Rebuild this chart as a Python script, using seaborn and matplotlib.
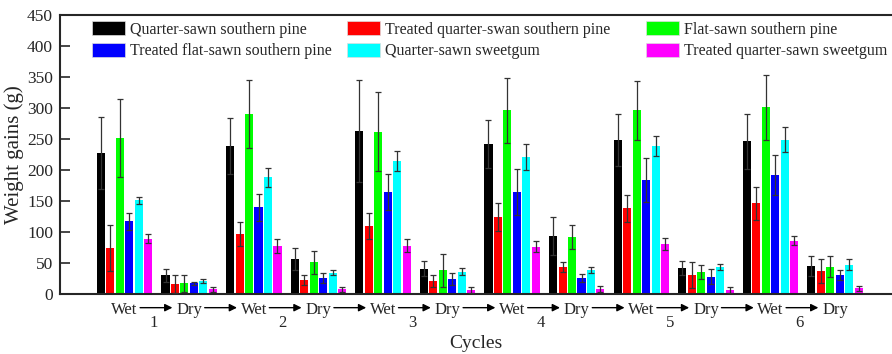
import matplotlib
matplotlib.use("Agg")
import matplotlib.pyplot as plt
from matplotlib.legend import Legend
import numpy as np
import pandas as pd
import seaborn as sns

stages = ["Wet", "Dry", "Wet", "Dry", "Wet", "Dry", "Wet", "Dry", "Wet", "Dry", "Wet", "Dry"]
cycles = ["1", "2", "3", "4", "5", "6"]
series = ["Quarter-sawn southern pine", "Treated quarter-swan southern pine",
          "Flat-sawn southern pine", "Treated flat-sawn southern pine",
          "Quarter-sawn sweetgum", "Treated quarter-sawn sweetgum"]
colors = ["#000000", "#ff0000", "#00ff00", "#0000ff", "#00ffff", "#ff00ff"]

qs_pine = [228, 30, 239, 56, 263, 41, 242, 94, 248, 42, 246, 45]
qs_pine_err = [58, 11, 45, 18, 82, 12, 38, 31, 42, 11, 45, 16]
tq_pine = [74, 16, 97, 22, 109, 21, 124, 43, 138, 30, 146, 37]
tq_pine_err = [37, 14, 19, 8, 21, 9, 23, 8, 22, 21, 26, 19]
fs_pine = [252, 17, 290, 51, 262, 38, 296, 92, 296, 35, 301, 44]
fs_pine_err = [63, 13, 55, 19, 64, 27, 53, 19, 47, 11, 53, 17]
tf_pine = [117, 17, 140, 26, 165, 24, 165, 26, 184, 28, 192, 31]
tf_pine_err = [13, 3, 22, 8, 29, 10, 37, 6, 35, 12, 33, 8]
qs_gum = [151, 21, 188, 34, 215, 36, 221, 39, 239, 44, 249, 47]
qs_gum_err = [6, 4, 15, 4, 16, 6, 21, 5, 16, 5, 20, 9]
tq_gum = [89, 8, 77, 8, 78, 6, 76, 8, 81, 6, 86, 9]
tq_gum_err = [7, 4, 11, 4, 10, 5, 9, 5, 10, 5, 7, 4]

values = [qs_pine, tq_pine, fs_pine, tf_pine, qs_gum, tq_gum]
errors = [qs_pine_err, tq_pine_err, fs_pine_err, tf_pine_err, qs_gum_err, tq_gum_err]

rows = []
for name, vals in zip(series, values):
    for i, v in enumerate(vals):
        rows.append({"group": i, "series": name, "gain": v})
df = pd.DataFrame(rows)

sns.set_style("ticks")
plt.rcParams["font.family"] = ["Liberation Serif", "DejaVu Serif"]

fig = plt.figure(figsize=(8.92, 3.54), dpi=100)
ax = fig.add_axes([60 / 892, 60 / 354, 832 / 892, 279 / 354])

sns.barplot(data=df, x="group", y="gain", hue="series", hue_order=series,
            palette=colors, saturation=1, width=0.88, gap=0.15, errorbar=None,
            linewidth=0, ax=ax, legend=False)

for cont, err in zip(ax.containers, errors):
    xs = [b.get_x() + b.get_width() / 2 for b in cont]
    ys = [b.get_height() for b in cont]
    ax.errorbar(xs, ys, yerr=err, fmt="none", ecolor="#333333",
                elinewidth=0.9, capsize=2.5, capthick=0.9, zorder=3)

ax.set_xlim(-1, 11.88)
ax.set_ylim(0, 450)
ax.set_yticks(np.arange(0, 451, 50))
ax.set_xticks(range(12))
ax.set_xticklabels(stages, fontsize=12)
ax.tick_params(axis="x", length=0, pad=6)
ax.tick_params(axis="y", direction="in", length=7, width=1.2, labelsize=12.5, pad=5)
for s in ["left", "bottom", "top"]:
    ax.spines[s].set_linewidth(1.5)
ax.spines["right"].set_visible(False)

ax.set_ylabel("Weight gains (g)", fontsize=15, labelpad=2)
ax.set_xlabel("Cycles", fontsize=14, labelpad=12)

# arrows between stage labels
tr = ax.get_xaxis_transform()
for i in range(11):
    ax.annotate("", xy=(i + 0.74, -0.049), xytext=(i + 0.24, -0.049),
                xycoords=tr, textcoords=tr, annotation_clip=False,
                arrowprops=dict(arrowstyle="-|>", color="black", lw=1,
                                mutation_scale=11, shrinkA=0, shrinkB=0))
for k, c in enumerate(cycles):
    ax.text(2 * k + 0.45, -0.105, c, transform=tr, ha="center", va="center",
            fontsize=12, clip_on=False)

# legend: three columns placed separately
handles = [plt.Rectangle((0, 0), 1, 1, facecolor=c, edgecolor="#dddddd", lw=0.5) for c in colors]
col_x = [92, 347, 646]
col_items = [[0, 3], [1, 4], [2, 5]]
for cx, items in zip(col_x, col_items):
    leg = Legend(ax, [handles[i] for i in items], [series[i] for i in items],
                 loc="upper left", bbox_to_anchor=((cx - 60) / 832, 0.978),
                 frameon=False, fontsize=11.5, handlelength=2.05, handleheight=1.0,
                 handletextpad=0.3, labelspacing=0.3, borderpad=0, borderaxespad=0)
    ax.add_artist(leg)

fig.savefig("out.png", dpi=100)
